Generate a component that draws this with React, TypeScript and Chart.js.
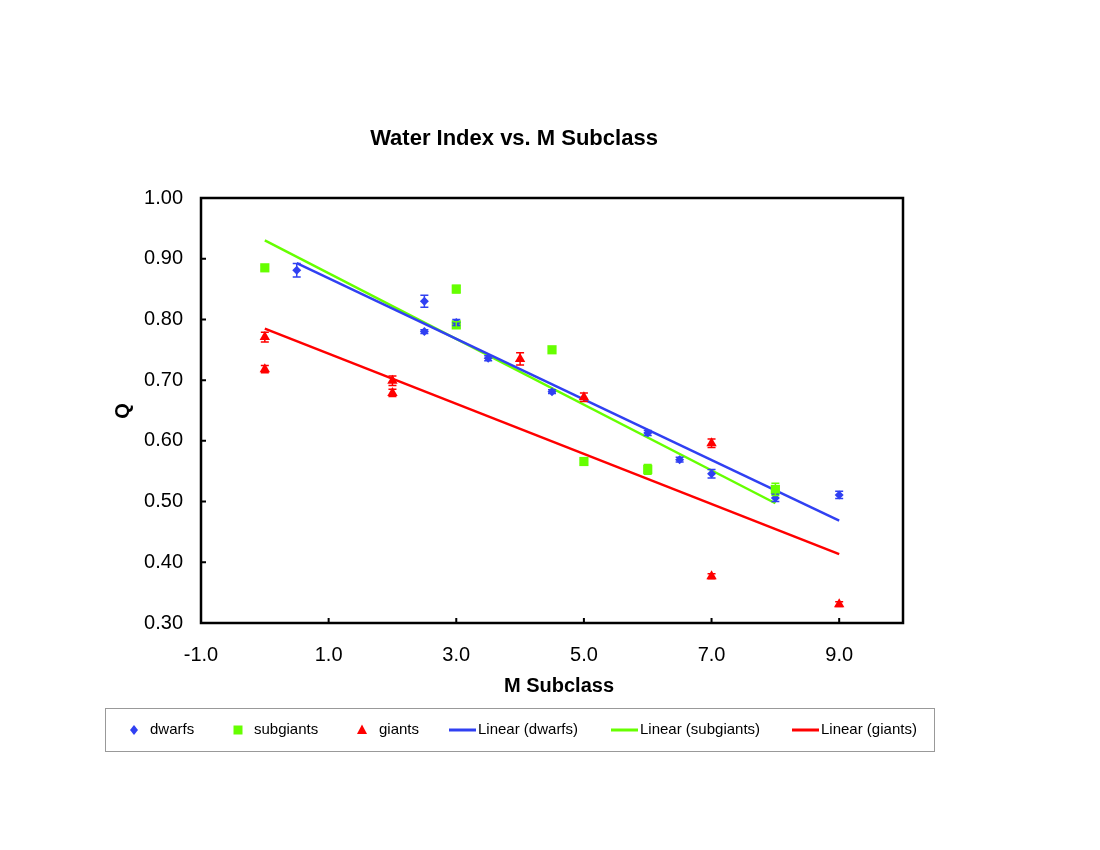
import React, { useEffect, useRef } from 'react';
import { Chart, registerables } from 'chart.js';

Chart.register(...registerables);

// ---- data ----
const dwarfX = [0.5, 2.5, 2.5, 3.0, 3.5, 4.5, 6.0, 6.5, 7.0, 8.0, 9.0];
const dwarfQ = [0.881, 0.830, 0.780, 0.795, 0.736, 0.681, 0.613, 0.569, 0.546, 0.506, 0.511];
const dwarfErr = [0.011, 0.01, 0.003, 0.005, 0.004, 0.003, 0.004, 0.004, 0.007, 0.006, 0.006];

const subgiantX = [0.0, 3.0, 3.0, 4.5, 5.0, 6.0, 8.0];
const subgiantQ = [0.885, 0.850, 0.791, 0.750, 0.566, 0.553, 0.520];
const subgiantErr = [0.004, 0.006, 0.005, 0.004, 0.003, 0.008, 0.01];

const giantX = [0.0, 0.0, 2.0, 2.0, 4.0, 5.0, 7.0, 7.0, 9.0];
const giantQ = [0.771, 0.718, 0.699, 0.679, 0.735, 0.672, 0.596, 0.377, 0.331];
const giantErr = [0.008, 0.006, 0.008, 0.006, 0.01, 0.007, 0.007, 0.004, 0.004];

const xTicks = [-1, 1, 3, 5, 7, 9];
const yTicks = [0.3, 0.4, 0.5, 0.6, 0.7, 0.8, 0.9, 1.0];

const seriesNames = ['dwarfs', 'subgiants', 'giants'];
const TITLE = 'Water Index vs. M Subclass';
const X_TITLE = 'M Subclass';
const Y_TITLE = 'Q';

const BLUE = '#3040f2';
const GREEN = '#66ff00';
const RED = '#ff0000';
const FONT = '"Liberation Sans", Arial, Helvetica, sans-serif';

function pts(xs: number[], ys: number[]) {
  return xs.map((x, i) => ({ x, y: ys[i] }));
}

// least-squares linear trendline spanning the data's x range
function trend(xs: number[], ys: number[]) {
  const n = xs.length;
  const mx = xs.reduce((a, b) => a + b, 0) / n;
  const my = ys.reduce((a, b) => a + b, 0) / n;
  let sxy = 0;
  let sxx = 0;
  for (let i = 0; i < n; i++) {
    sxy += (xs[i] - mx) * (ys[i] - my);
    sxx += (xs[i] - mx) * (xs[i] - mx);
  }
  const m = sxy / sxx;
  const b = my - m * mx;
  const x0 = Math.min(...xs);
  const x1 = Math.max(...xs);
  return [
    { x: x0, y: m * x0 + b },
    { x: x1, y: m * x1 + b },
  ];
}

function drawMarker(ctx: CanvasRenderingContext2D, kind: string, x: number, y: number, color: string) {
  ctx.save();
  ctx.fillStyle = color;
  ctx.beginPath();
  if (kind === 'diamond') {
    ctx.moveTo(x, y - 5);
    ctx.lineTo(x + 4, y);
    ctx.lineTo(x, y + 5);
    ctx.lineTo(x - 4, y);
  } else if (kind === 'square') {
    ctx.rect(x - 4.5, y - 4.5, 9, 9);
  } else {
    ctx.moveTo(x, y - 5.5);
    ctx.lineTo(x + 5, y + 4);
    ctx.lineTo(x - 5, y + 4);
  }
  ctx.closePath();
  ctx.fill();
  ctx.restore();
}

const errorBarPlugin = {
  id: 'errorBars',
  afterDatasetsDraw(chart: any) {
    const ctx = chart.ctx as CanvasRenderingContext2D;
    const xs = chart.scales.x;
    const ys = chart.scales.y;
    chart.data.datasets.forEach((ds: any) => {
      if (!ds.errs) return;
      ctx.save();
      ctx.strokeStyle = ds.borderColor;
      ctx.lineWidth = 1.5;
      ds.data.forEach((p: any, i: number) => {
        const e = ds.errs[i];
        const px = xs.getPixelForValue(p.x);
        const top = ys.getPixelForValue(p.y + e);
        const bot = ys.getPixelForValue(p.y - e);
        ctx.beginPath();
        ctx.moveTo(px, top);
        ctx.lineTo(px, bot);
        ctx.moveTo(px - 4, top);
        ctx.lineTo(px + 4, top);
        ctx.moveTo(px - 4, bot);
        ctx.lineTo(px + 4, bot);
        ctx.stroke();
      });
      ctx.restore();
    });
  },
};

const framePlugin = {
  id: 'frameAndText',
  afterDraw(chart: any) {
    const ctx = chart.ctx as CanvasRenderingContext2D;
    const a = chart.chartArea;
    const xs = chart.scales.x;
    const ys = chart.scales.y;
    ctx.save();
    // frame
    ctx.strokeStyle = '#000';
    ctx.lineWidth = 2.5;
    ctx.strokeRect(a.left, a.top, a.right - a.left, a.bottom - a.top);
    // inward tick marks
    ctx.lineWidth = 2;
    ctx.beginPath();
    yTicks.forEach((v) => {
      const py = ys.getPixelForValue(v);
      ctx.moveTo(a.left, py);
      ctx.lineTo(a.left + 5, py);
    });
    xTicks.forEach((v) => {
      const px = xs.getPixelForValue(v);
      ctx.moveTo(px, a.bottom);
      ctx.lineTo(px, a.bottom - 5);
    });
    ctx.stroke();

    // titles
    ctx.fillStyle = '#000';
    ctx.textBaseline = 'middle';
    ctx.textAlign = 'center';
    ctx.font = `bold 22px ${FONT}`;
    ctx.fillText(TITLE, 514, 139);
    ctx.font = `bold 20px ${FONT}`;
    ctx.fillText(X_TITLE, 559, 686);
    ctx.save();
    ctx.translate(123, 411);
    ctx.rotate(-Math.PI / 2);
    ctx.fillText(Y_TITLE, 0, 0);
    ctx.restore();

    // legend box
    ctx.strokeStyle = '#999';
    ctx.lineWidth = 1;
    ctx.strokeRect(105.5, 708.5, 829, 43);
    const ly = 730;
    ctx.font = `15px ${FONT}`;
    ctx.textAlign = 'left';
    drawMarker(ctx, 'diamond', 134, ly, BLUE);
    ctx.fillText(seriesNames[0], 150, ly);
    drawMarker(ctx, 'square', 238, ly, GREEN);
    ctx.fillText(seriesNames[1], 254, ly);
    drawMarker(ctx, 'triangle', 362, ly, RED);
    ctx.fillText(seriesNames[2], 379, ly);
    const lines: [number, string, string][] = [
      [449, BLUE, `Linear (${seriesNames[0]})`],
      [611, GREEN, `Linear (${seriesNames[1]})`],
      [792, RED, `Linear (${seriesNames[2]})`],
    ];
    lines.forEach(([x, c, t]) => {
      ctx.strokeStyle = c;
      ctx.lineWidth = 3;
      ctx.beginPath();
      ctx.moveTo(x, ly);
      ctx.lineTo(x + 27, ly);
      ctx.stroke();
      ctx.fillText(t, x + 29, ly);
    });
    ctx.restore();
  },
};

export default function App() {
  const ref = useRef<HTMLCanvasElement | null>(null);

  useEffect(() => {
    if (!ref.current) return;
    const chart = new Chart(ref.current, {
      type: 'scatter',
      data: {
        datasets: [
          {
            label: seriesNames[0],
            data: pts(dwarfX, dwarfQ),
            errs: dwarfErr,
            backgroundColor: BLUE,
            borderColor: BLUE,
            pointStyle: 'rectRot',
            pointRadius: 4.5,
            pointBorderWidth: 0,
          } as any,
          {
            label: seriesNames[1],
            data: pts(subgiantX, subgiantQ),
            errs: subgiantErr,
            backgroundColor: GREEN,
            borderColor: GREEN,
            pointStyle: 'rect',
            pointRadius: 6.5,
            pointBorderWidth: 0,
          } as any,
          {
            label: seriesNames[2],
            data: pts(giantX, giantQ),
            errs: giantErr,
            backgroundColor: RED,
            borderColor: RED,
            pointStyle: 'triangle',
            pointRadius: 6,
            pointBorderWidth: 0,
          } as any,
          {
            type: 'line',
            label: `Linear (${seriesNames[0]})`,
            data: trend(dwarfX, dwarfQ),
            borderColor: BLUE,
            borderWidth: 2.5,
            pointRadius: 0,
            showLine: true,
            fill: false,
          } as any,
          {
            type: 'line',
            label: `Linear (${seriesNames[1]})`,
            data: trend(subgiantX, subgiantQ),
            borderColor: GREEN,
            borderWidth: 2.5,
            pointRadius: 0,
            showLine: true,
            fill: false,
          } as any,
          {
            type: 'line',
            label: `Linear (${seriesNames[2]})`,
            data: trend(giantX, giantQ),
            borderColor: RED,
            borderWidth: 2.5,
            pointRadius: 0,
            showLine: true,
            fill: false,
          } as any,
        ],
      },
      options: {
        responsive: false,
        animation: false,
        devicePixelRatio: 1,
        layout: { padding: { left: 0, top: 198, right: 197, bottom: 0 } },
        plugins: {
          legend: { display: false },
          title: { display: false },
          tooltip: { enabled: false },
        },
        scales: {
          x: {
            type: 'linear',
            min: -1,
            max: 10,
            afterFit: (s: any) => {
              s.height = 227;
            },
            afterBuildTicks: (s: any) => {
              s.ticks = xTicks.map((v) => ({ value: v }));
            },
            ticks: {
              color: '#000',
              font: { family: FONT, size: 20 },
              padding: 20,
              callback: (v: any) => Number(v).toFixed(1),
            },
            grid: { display: false, drawTicks: false },
            border: { display: false },
          },
          y: {
            type: 'linear',
            min: 0.3,
            max: 1.0,
            afterFit: (s: any) => {
              s.width = 201;
            },
            afterBuildTicks: (s: any) => {
              s.ticks = yTicks.map((v) => ({ value: v }));
            },
            ticks: {
              color: '#000',
              font: { family: FONT, size: 20 },
              padding: 18,
              callback: (v: any) => Number(v).toFixed(2),
            },
            grid: { display: false, drawTicks: false },
            border: { display: false },
          },
        },
      } as any,
      plugins: [errorBarPlugin, framePlugin],
    });
    return () => chart.destroy();
  }, []);

  return (
    <div style={{ position: 'absolute', left: 0, top: 0, width: 1100, height: 850, background: '#fff' }}>
      <canvas ref={ref} width={1100} height={850} style={{ width: 1100, height: 850, display: 'block' }} />
    </div>
  );
}
